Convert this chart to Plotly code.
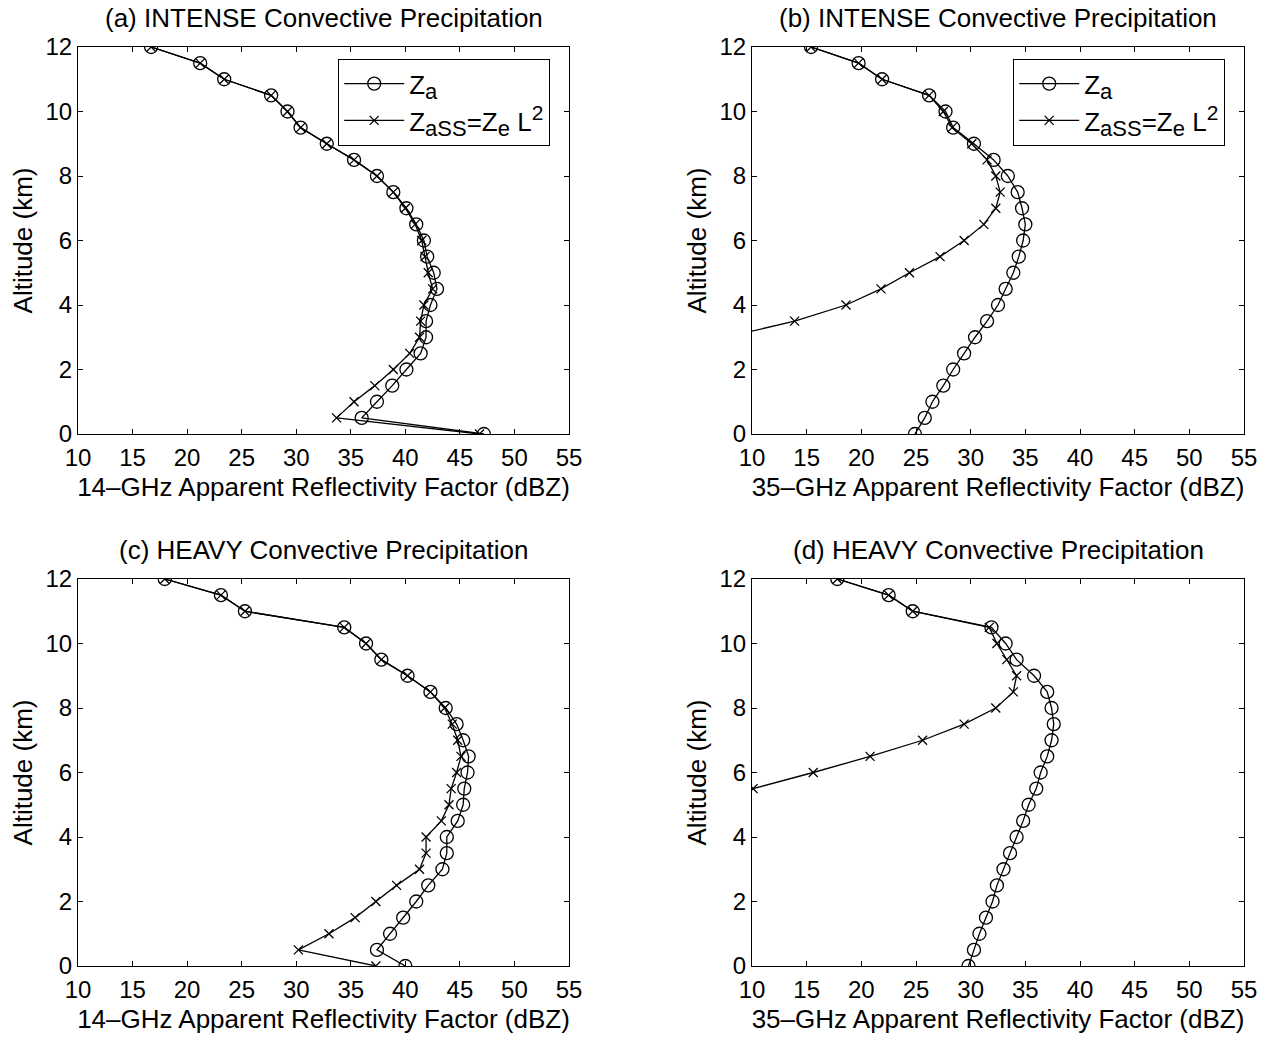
import plotly.graph_objects as go

# Altitude levels (km), top of profile first
ALT = [12.0, 11.5, 11.0, 10.5, 10.0, 9.5, 9.0, 8.5, 8.0, 7.5, 7.0, 6.5, 6.0,
       5.5, 5.0, 4.5, 4.0, 3.5, 3.0, 2.5, 2.0, 1.5, 1.0, 0.5, 0.0]

# (a) INTENSE, 14 GHz
a_za = [16.7, 21.2, 23.4, 27.7, 29.2, 30.4, 32.8, 35.3, 37.4, 38.9, 40.1, 41.0,
        41.7, 42.0, 42.6, 42.9, 42.3, 41.9, 41.9, 41.4, 40.1, 38.8, 37.4, 36.0, 47.2]
a_zass = [16.7, 21.2, 23.4, 27.7, 29.2, 30.4, 32.8, 35.3, 37.4, 38.9, 40.0, 40.9,
          41.5, 41.8, 42.1, 42.5, 41.7, 41.4, 41.3, 40.4, 38.9, 37.2, 35.3, 33.7, 46.8]

# (b) INTENSE, 35 GHz
b_za = [15.4, 19.75, 21.9, 26.2, 27.7, 28.4, 30.3, 32.1, 33.4, 34.3, 34.7, 35.0,
        34.8, 34.4, 33.9, 33.2, 32.5, 31.5, 30.4, 29.4, 28.4, 27.5, 26.5, 25.8, 24.9]
b_zass = [15.4, 19.75, 21.9, 26.2, 27.5, 28.3, 30.1, 31.5, 32.3, 32.7, 32.3, 31.2,
          29.4, 27.2, 24.4, 21.8, 18.6, 13.9, 7.6]

# (c) HEAVY, 14 GHz
c_za = [17.95, 23.1, 25.3, 34.4, 36.4, 37.8, 40.2, 42.3, 43.7, 44.7, 45.3, 45.8,
        45.7, 45.4, 45.3, 44.8, 43.8, 43.8, 43.4, 42.1, 41.0, 39.8, 38.6, 37.4, 40.0]
c_zass = [17.95, 23.1, 25.3, 34.4, 36.4, 37.8, 40.2, 42.3, 43.6, 44.3, 44.8, 45.1,
          44.7, 44.2, 44.0, 43.3, 41.9, 41.9, 41.3, 39.2, 37.3, 35.4, 33.0, 30.2, 37.3]

# (d) HEAVY, 35 GHz
d_za = [17.8, 22.5, 24.7, 31.9, 33.2, 34.2, 35.8, 37.0, 37.4, 37.6, 37.4, 37.0,
        36.4, 36.0, 35.3, 34.8, 34.2, 33.6, 33.0, 32.4, 32.0, 31.4, 30.8, 30.3, 29.8]
d_zass = [17.8, 22.5, 24.7, 31.7, 32.4, 33.3, 34.2, 33.9, 32.3, 29.4, 25.6, 20.8,
          15.6, 10.1]

TITLES = ["(a) INTENSE Convective Precipitation",
          "(b) INTENSE Convective Precipitation",
          "(c) HEAVY Convective Precipitation",
          "(d) HEAVY Convective Precipitation"]
XLABELS = ["14\u2013GHz Apparent Reflectivity Factor (dBZ)",
           "35\u2013GHz Apparent Reflectivity Factor (dBZ)",
           "14\u2013GHz Apparent Reflectivity Factor (dBZ)",
           "35\u2013GHz Apparent Reflectivity Factor (dBZ)"]
YLABEL = "Altitude (km)"
X_TICKS = [10, 15, 20, 25, 30, 35, 40, 45, 50, 55]
Y_TICKS = [0, 2, 4, 6, 8, 10, 12]


def small(s, px):
    return "<span style='font-size:%dpx'>%s</span>" % (px, s)


ZA_NAME = "Z<sub>" + small("a", 22) + "</sub>"
ZASS_NAME = ("Z<sub>" + small("aSS", 22) + "</sub>=Z<sub>" + small("e", 22)
             + "</sub> L<sup>" + small("2", 21) + "</sup>")

W, H = 1275, 1038
FONT = "Liberation Sans, Arial, Helvetica, sans-serif"
FS_TICK = 24
FS_TEXT = 26

# panel frames in pixels: (left, right, top, bottom)
FRAMES = [(78, 569, 47, 434), (752, 1244, 47, 434),
          (78, 569, 579, 966), (752, 1244, 579, 966)]

panels = [(a_za, a_zass), (b_za, b_zass), (c_za, c_zass), (d_za, d_zass)]
legends = ["legend", "legend2", None, None]

fig = go.Figure()

for i, ((za, zass), leg) in enumerate(zip(panels, legends)):
    ax = "" if i == 0 else str(i + 1)
    common = dict(xaxis="x" + ax, yaxis="y" + ax, mode="lines+markers",
                  line=dict(color="black", width=1.3), cliponaxis=True)
    fig.add_trace(go.Scatter(
        x=za, y=ALT[:len(za)], name=ZA_NAME,
        marker=dict(symbol="circle-open", size=13, color="black",
                    line=dict(width=1.3, color="black")),
        showlegend=leg is not None, legend=leg or "legend", **common))
    fig.add_trace(go.Scatter(
        x=zass, y=ALT[:len(zass)], name=ZASS_NAME,
        marker=dict(symbol="x-thin-open", size=9, color="black",
                    line=dict(width=1.3, color="black")),
        showlegend=leg is not None, legend=leg or "legend", **common))

layout = dict(width=W, height=H, margin=dict(l=0, r=0, t=0, b=0),
              paper_bgcolor="white", plot_bgcolor="white",
              font=dict(family=FONT, size=FS_TEXT, color="black"))

axis_style = dict(showline=True, linecolor="black", linewidth=1.2,
                  mirror="ticks", ticks="inside", ticklen=5, tickwidth=1,
                  tickcolor="black", showgrid=False, zeroline=False,
                  automargin=False, tickfont=dict(family=FONT, size=FS_TICK))

annotations = []
for i, (l, r, t, b) in enumerate(FRAMES):
    ax = "" if i == 0 else str(i + 1)
    layout["xaxis" + ax] = dict(
        domain=[l / W, r / W], range=[10, 55], tickvals=X_TICKS,
        anchor="y" + ax, ticklabelstandoff=2,
        title=dict(text=XLABELS[i], standoff=7,
                   font=dict(family=FONT, size=FS_TEXT)),
        **axis_style)
    layout["yaxis" + ax] = dict(
        domain=[1 - b / H, 1 - t / H], range=[0, 12], tickvals=Y_TICKS,
        anchor="x" + ax,
        title=dict(text=YLABEL, standoff=5,
                   font=dict(family=FONT, size=FS_TEXT)),
        **axis_style)
    annotations.append(dict(
        text=TITLES[i], x=(l + r) / 2 / W, y=1 - (t - 29) / H,
        xref="paper", yref="paper", xanchor="center", yanchor="middle",
        showarrow=False, font=dict(family=FONT, size=FS_TEXT)))

legend_style = dict(bgcolor="white", bordercolor="black", borderwidth=1.2,
                    font=dict(family=FONT, size=FS_TEXT), xanchor="left",
                    yanchor="top", tracegroupgap=0, itemwidth=60)
layout["legend"] = dict(x=338 / W, y=1 - 59 / H, **legend_style)
layout["legend2"] = dict(x=1013 / W, y=1 - 59 / H, **legend_style)
layout["annotations"] = annotations

fig.update_layout(**layout)
fig.write_html("out.html")
